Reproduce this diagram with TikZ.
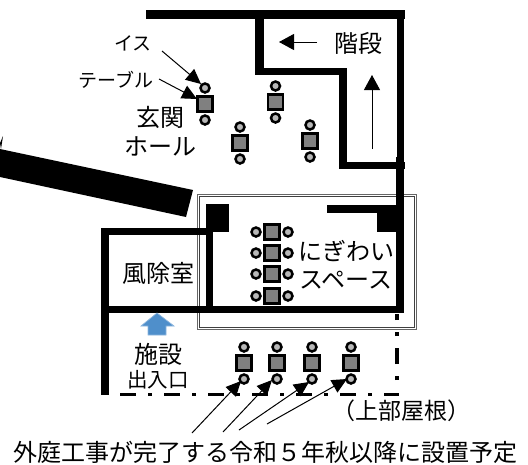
\documentclass[tikz,border=0pt]{standalone}
\usepackage{fontspec}
\setmainfont{Noto Sans CJK JP}
\usetikzlibrary{arrows.meta}
\definecolor{entry}{HTML}{4F8FCB}
\definecolor{entryedge}{HTML}{8DB6DE}
\tikzset{
  wall/.style={fill=black,draw=none},
  chair/.style={circle,draw=black,line width=2.5pt,fill=black!28,minimum size=9pt,inner sep=0pt},
  tablebox/.style={rectangle,draw=black,line width=2.6pt,fill=black!50,minimum size=15pt,inner sep=0pt},
  lblXL/.style={inner sep=0pt,font=\fontsize{24}{28}\selectfont},
  lblL/.style={inner sep=0pt,font=\fontsize{24}{28}\selectfont},
  lblM/.style={inner sep=0pt,font=\fontsize{20.5}{24}\selectfont},
  lblR/.style={inner sep=0pt,font=\fontsize{23}{28}\selectfont},
  lblS/.style={inner sep=0pt,font=\fontsize{19}{22}\selectfont},
  leader/.style={line width=1pt,-{Triangle[length=15pt,width=14pt]}},
  stair/.style={line width=1pt,-{Triangle[length=15pt,width=16pt]}},
  roofline/.style={line width=3.6pt,black},
  pics/vset/.style={code={
    \node[chair] at (0,-16) {};
    \node[chair] at (0,16) {};
    \node[tablebox] at (0,0) {};
  }},
  pics/hset/.style={code={
    \node[chair] at (-16,0) {};
    \node[chair] at (16,0) {};
    \node[tablebox] at (0,0) {};
  }},
}
\begin{document}
\begin{tikzpicture}[x=1pt,y=-1pt]
\useasboundingbox (0,0) rectangle (528,464);
% double outline
\draw[black!60,line width=0.9pt] (197,194) rectangle (416,329);
\draw[black!75,line width=0.7pt] (199,196) rectangle (414,327);
% walls
\fill[wall] (146,10) rectangle (405,19);
\fill[wall] (255,10) rectangle (264,75);
\fill[wall] (255,68) rectangle (347,75);
\fill[wall] (339,68) rectangle (347,169);
\fill[wall] (339,162) rectangle (405,169);
\fill[wall] (397,10) rectangle (404,157);
\fill[wall] (396,157) rectangle (404,313);
\fill[wall] (327,205) rectangle (404,213);
\fill[wall] (377,208) rectangle (404,232);
\fill[wall] (206,204) rectangle (229,232);
\fill[wall] (206,232) rectangle (213,313);
\fill[wall] (101,306) rectangle (404,313);
\fill[wall] (101,228) rectangle (206,235);
\fill[wall] (101,228) rectangle (109,395);
\fill[wall] (0,149) -- (193,190) -- (186,217) -- (0,177) -- cycle;
\fill[wall] (0,143) -- (3,136) -- (1,149) -- cycle;
% upper roof line
\draw[roofline,dash pattern=on 16pt off 12pt on 4pt off 12pt] (120,394.5) -- (399,394.5);
\draw[roofline,dash pattern=on 4pt off 12pt on 16pt off 12pt] (397,380) -- (397,314);
% furniture
\foreach \x/\y in {205/104,240/143,275.5/102,310/141,244/363,277/363,312/363,351/363}
  \pic at (\x,\y) {vset};
\foreach \y in {232,253,274,296}
  \pic at (272,\y) {hset};
% blue entrance arrow
\draw[fill=entry,draw=entryedge,line width=0.7pt]
  (157,313) -- (174,326) -- (166,326) -- (166,335) -- (148,335) -- (148,326) -- (141,326) -- cycle;
% labels
\node[lblL] (fuu) at (158,273) {風除室};
\node[lblL] (shi) at (158,354) {施設};
\node[lblM] (dei) at (158,380) {出入口};
\node[lblL] (gen) at (160.5,117) {玄関};
\node[lblL] (hol) at (160,146) {ホール};
\node[lblL] (kai) at (358,43) {階段};
\node[lblL] (nig) at (346,251) {にぎわい};
\node[lblL] (spa) at (346,280) {スペース};
\node[lblR] (roof) at (401,411) {（上部屋根）};
\node[lblXL] (cap) at (265.5,452) {外庭工事が完了する令和５年秋以降に設置予定};
\node[lblS] (isu) at (133,43) {イス};
\node[lblS] (tab) at (116,80) {テーブル};
% leaders
\coordinate (a1) at (162,51);   \coordinate (b1) at (201,84);
\coordinate (a2) at (159,79);   \coordinate (b2) at (197,99);
\draw[leader] (a1) -- (b1);
\draw[leader] (a2) -- (b2);
\coordinate (c1) at (192,433);  \coordinate (d1) at (241,381);
\coordinate (c2) at (223,432);  \coordinate (d2) at (272,380);
\coordinate (c3) at (239,430);  \coordinate (d3) at (309,382);
\coordinate (c4) at (267,424);  \coordinate (d4) at (347,379);
\draw[leader] (c1) -- (d1);
\draw[leader] (c2) -- (d2);
\draw[leader] (c3) -- (d3);
\draw[leader] (c4) -- (d4);
% stairs
\coordinate (s1) at (317,42);  \coordinate (s2) at (279,42);
\coordinate (s3) at (372,149); \coordinate (s4) at (372,75);
\draw[stair] (s1) -- (s2);
\draw[stair] (s3) -- (s4);
\end{tikzpicture}
\end{document}
